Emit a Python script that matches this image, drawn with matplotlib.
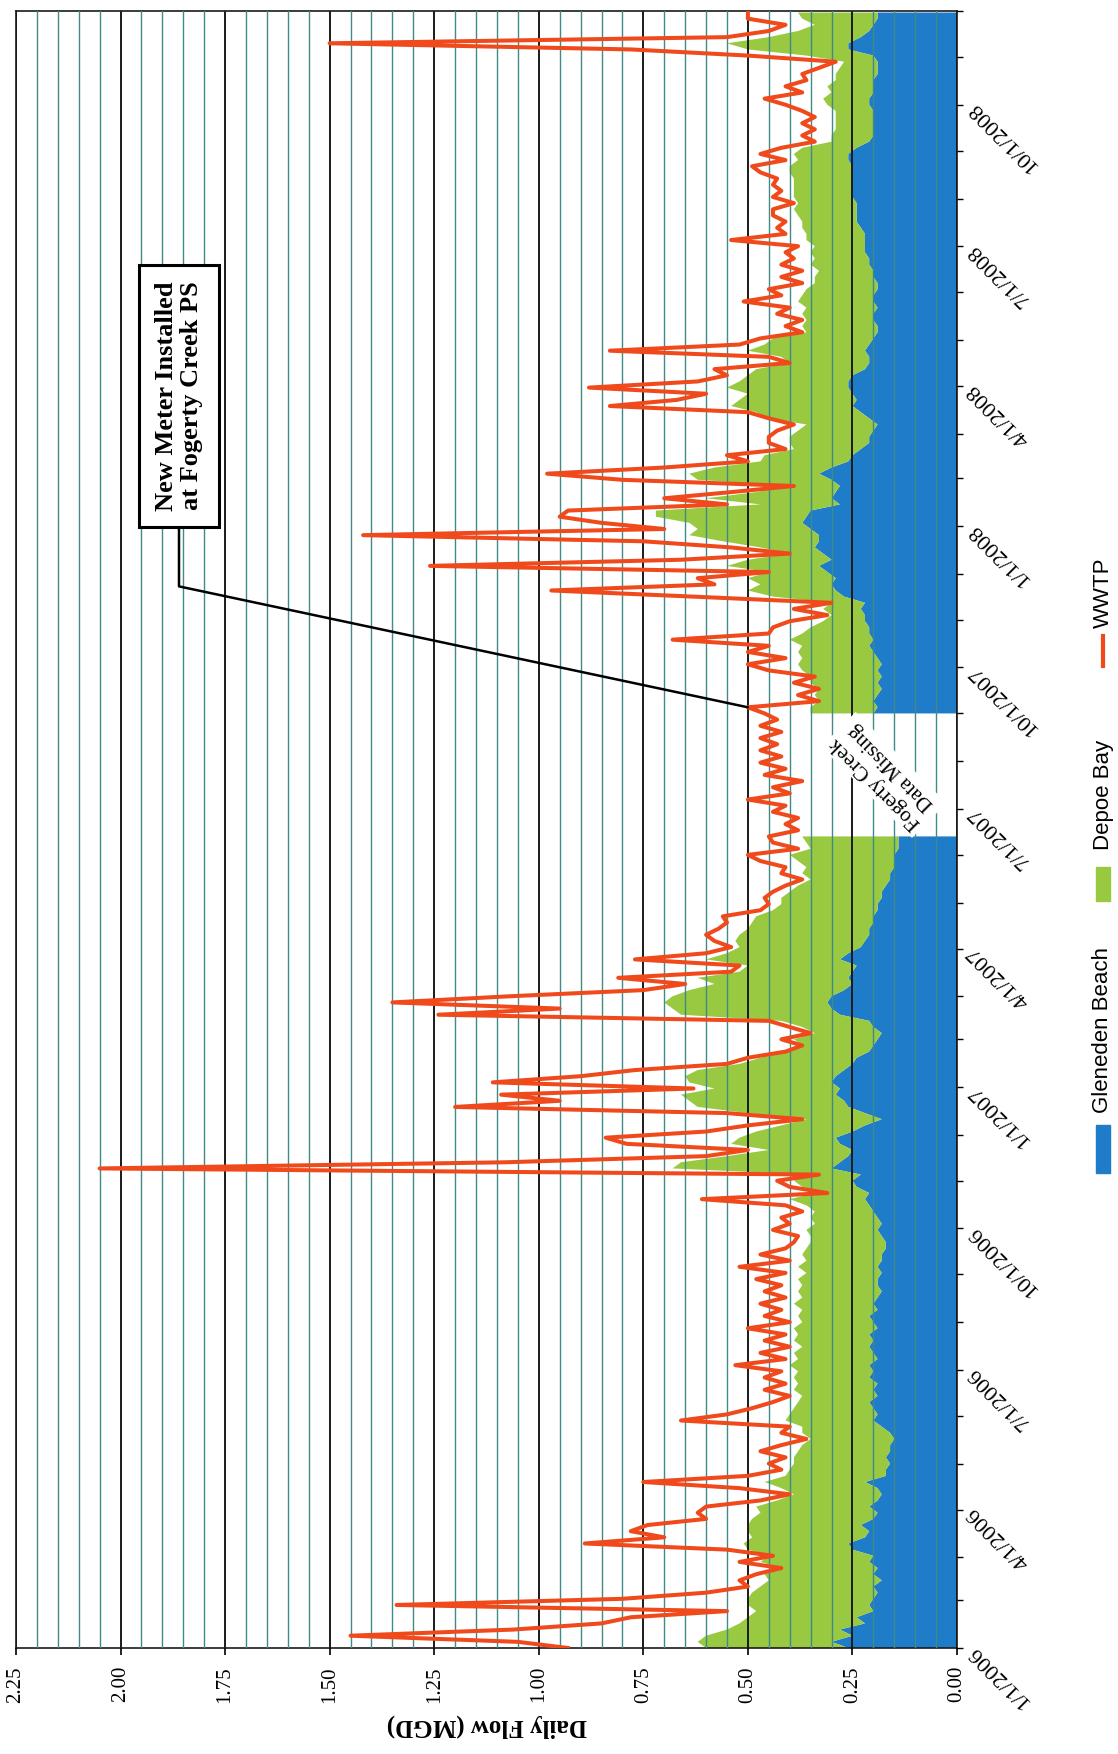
import numpy as np
import pandas as pd
import matplotlib
matplotlib.use("Agg")
import matplotlib.pyplot as plt
import matplotlib.dates as mdates
from matplotlib.patches import Rectangle
from matplotlib.lines import Line2D

nan = np.nan

# daily flow readings, one value every 4 days starting 1/1/2006
dates = pd.date_range("2006-01-01", periods=267, freq="4D")

gleneden = [
    0.26, 0.30, 0.25, 0.28, 0.22, 0.24, 0.20, 0.21, 0.20, 0.19,
    0.20, 0.18, 0.20, 0.19, 0.21, 0.20, 0.25, 0.26, 0.22, 0.21,
    0.23, 0.20, 0.19, 0.21, 0.19, 0.18, 0.19, 0.22, 0.17, 0.17,
    0.16, 0.17, 0.16, 0.16, 0.15, 0.16, 0.18, 0.20, 0.19, 0.20,
    0.21, 0.19, 0.20, 0.19, 0.21, 0.20, 0.21, 0.19, 0.20, 0.21,
    0.20, 0.21, 0.19, 0.20, 0.21, 0.19, 0.20, 0.19, 0.18, 0.19,
    0.19, 0.18, 0.19, 0.18, 0.18, 0.17, 0.17,
    0.18, 0.19, 0.18,
    0.19, 0.20, 0.21, 0.22, 0.21, 0.24, 0.25, 0.23, 0.30, 0.28,
    0.26, 0.25, 0.28, 0.29, 0.25, 0.22, 0.18, 0.22, 0.26, 0.27,
    0.29, 0.28, 0.30, 0.29, 0.27, 0.25, 0.24, 0.21, 0.20, 0.19,
    0.18, 0.20, 0.21, 0.28, 0.30, 0.31, 0.30, 0.27, 0.25, 0.26,
    0.25, 0.24, 0.28, 0.26, 0.23, 0.22, 0.21, 0.21, 0.20, 0.20,
    0.19, 0.19, 0.18, 0.18, 0.17, 0.16, 0.16, 0.15, 0.15, 0.15,
    0.14, 0.14, 0.14,
    nan, nan, nan, nan, nan, nan, nan, nan, nan, nan,
    nan, nan, nan, nan, nan, nan, nan, nan, nan,
    0.20, 0.19, 0.20, 0.19, 0.18, 0.19, 0.18, 0.19,
    0.18, 0.19, 0.20, 0.21, 0.20, 0.21, 0.21, 0.22, 0.22, 0.23,
    0.22, 0.27, 0.29, 0.30, 0.29, 0.31, 0.33, 0.30, 0.32, 0.34,
    0.33, 0.33, 0.35, 0.37, 0.36, 0.35, 0.28, 0.30, 0.29, 0.28,
    0.30, 0.33, 0.30, 0.26, 0.25, 0.23, 0.21, 0.21, 0.20, 0.19,
    0.21, 0.23, 0.25, 0.24, 0.25, 0.26, 0.26, 0.25, 0.22, 0.21,
    0.21, 0.22, 0.21, 0.20, 0.19, 0.19, 0.20, 0.20, 0.19, 0.20,
    0.20, 0.19, 0.19, 0.20, 0.20, 0.21, 0.21, 0.22, 0.22, 0.22,
    0.22, 0.23, 0.24, 0.24, 0.24, 0.24, 0.25, 0.25, 0.25, 0.25,
    0.25, 0.25, 0.26, 0.26, 0.24, 0.21, 0.20, 0.20, 0.20, 0.20,
    0.20, 0.21, 0.21, 0.20, 0.20, 0.20, 0.19, 0.19, 0.19, 0.20,
    0.26, 0.26, 0.23, 0.21, 0.20, 0.19, 0.19,
]

depoe = [
    0.34, 0.32, 0.35, 0.27, 0.30, 0.26, 0.28, 0.29, 0.30, 0.30,
    0.27, 0.27, 0.26, 0.23, 0.26, 0.25, 0.25, 0.25, 0.27, 0.29,
    0.27, 0.29, 0.28, 0.27, 0.24, 0.21, 0.23, 0.24, 0.24, 0.23,
    0.23, 0.22, 0.22, 0.21, 0.20, 0.21, 0.19, 0.21, 0.21, 0.19,
    0.17, 0.18, 0.19, 0.19, 0.18, 0.18, 0.19, 0.19, 0.19, 0.16,
    0.19, 0.17, 0.20, 0.17, 0.17, 0.18, 0.19, 0.18, 0.20, 0.18,
    0.19, 0.18, 0.19, 0.18, 0.19, 0.19, 0.18,
    0.17, 0.17, 0.16,
    0.16, 0.14, 0.15, 0.18, 0.13, 0.13, 0.14, 0.12, 0.38, 0.38,
    0.29, 0.20, 0.26, 0.23, 0.23, 0.20, 0.18, 0.28, 0.36, 0.37,
    0.37, 0.30, 0.34, 0.36, 0.35, 0.27, 0.23, 0.19, 0.17, 0.20,
    0.16, 0.17, 0.21, 0.38, 0.38, 0.39, 0.38, 0.37, 0.33, 0.36,
    0.27, 0.26, 0.32, 0.29, 0.29, 0.31, 0.31, 0.29, 0.29, 0.28,
    0.25, 0.23, 0.24, 0.22, 0.21, 0.19, 0.21, 0.21, 0.23, 0.25,
    0.21, 0.22, 0.23,
    nan, nan, nan, nan, nan, nan, nan, nan, nan, nan,
    nan, nan, nan, nan, nan, nan, nan, nan, nan,
    0.15, 0.16, 0.13, 0.15, 0.15, 0.16, 0.17, 0.18,
    0.20, 0.18, 0.18, 0.16, 0.20, 0.16, 0.14, 0.10, 0.08, 0.09,
    0.08, 0.17, 0.21, 0.17, 0.21, 0.14, 0.22, 0.20, 0.08, 0.13,
    0.23, 0.31, 0.27, 0.27, 0.36, 0.37, 0.19, 0.30, 0.19, 0.12,
    0.32, 0.31, 0.28, 0.21, 0.21, 0.16, 0.19, 0.19, 0.18, 0.17,
    0.24, 0.25, 0.29, 0.28, 0.25, 0.29, 0.26, 0.25, 0.26, 0.19,
    0.21, 0.28, 0.25, 0.24, 0.17, 0.18, 0.16, 0.17, 0.17, 0.18,
    0.17, 0.17, 0.15, 0.14, 0.13, 0.14, 0.13, 0.13, 0.12, 0.14,
    0.14, 0.14, 0.13, 0.14, 0.15, 0.14, 0.14, 0.14, 0.14, 0.14,
    0.15, 0.15, 0.12, 0.13, 0.13, 0.09, 0.10, 0.09, 0.09, 0.09,
    0.09, 0.10, 0.11, 0.10, 0.11, 0.09, 0.10, 0.09, 0.08, 0.16,
    0.24, 0.29, 0.22, 0.17, 0.14, 0.18, 0.19,
]

wwtp = [
    0.93, 1.05, 1.45, 1.06, 0.85, 0.78, 0.55, 1.34, 0.80, 0.60,
    0.50, 0.52, 0.48, 0.42, 0.52, 0.44, 0.55, 0.89, 0.70, 0.78,
    0.74, 0.60, 0.62, 0.60, 0.47, 0.40, 0.52, 0.75, 0.50, 0.42,
    0.45, 0.41, 0.47, 0.42, 0.36, 0.42, 0.40, 0.66, 0.55, 0.49,
    0.44, 0.40, 0.46, 0.41, 0.46, 0.42, 0.53, 0.41, 0.47, 0.40,
    0.46, 0.41, 0.50, 0.40, 0.46, 0.42, 0.47, 0.41, 0.46, 0.42,
    0.48, 0.41, 0.52, 0.40, 0.47, 0.41, 0.39,
    0.38, 0.44, 0.40,
    0.42, 0.37, 0.41, 0.61, 0.31, 0.40, 0.43, 0.33, 2.05, 1.08,
    0.60, 0.50, 0.79, 0.84, 0.60, 0.50, 0.37, 0.55, 1.20, 0.95,
    1.09, 0.63, 1.11, 0.90, 0.77, 0.55, 0.50, 0.41, 0.37, 0.42,
    0.35, 0.40, 0.45, 1.24, 0.95, 1.35, 1.07, 0.75, 0.65, 0.81,
    0.54, 0.52, 0.77, 0.60, 0.54, 0.58, 0.60, 0.57, 0.55, 0.56,
    0.47, 0.45, 0.46, 0.44, 0.41, 0.37, 0.42, 0.41, 0.47, 0.50,
    0.38, 0.44, 0.45,
    0.38, 0.41, 0.38, 0.44, 0.41, 0.50, 0.40,
    0.44, 0.37, 0.46, 0.41, 0.47, 0.42, 0.47, 0.43, 0.47, 0.42,
    0.47, 0.43, 0.46, 0.50, 0.33, 0.38, 0.33, 0.39, 0.34, 0.45,
    0.50, 0.41, 0.50, 0.45, 0.68, 0.45, 0.44, 0.40, 0.31, 0.39,
    0.30, 0.63, 0.97, 0.58, 0.62, 0.45, 1.26, 0.66, 0.40, 0.54,
    0.75, 1.42, 0.70, 0.85, 0.95, 0.93, 0.55, 0.70, 0.54, 0.39,
    0.80, 0.98, 0.70, 0.50, 0.55, 0.41, 0.45, 0.45, 0.43, 0.39,
    0.45, 0.50, 0.83, 0.67, 0.60, 0.88, 0.62, 0.55, 0.58, 0.40,
    0.45, 0.83, 0.52, 0.47, 0.37, 0.41, 0.37, 0.43, 0.40, 0.51,
    0.42, 0.45, 0.37, 0.42, 0.37, 0.42, 0.39, 0.41, 0.38, 0.54,
    0.41, 0.43, 0.41, 0.44, 0.44, 0.39, 0.44, 0.42, 0.44, 0.43,
    0.47, 0.49, 0.41, 0.47, 0.42, 0.34, 0.37, 0.34, 0.37, 0.34,
    0.37, 0.41, 0.46, 0.37, 0.41, 0.36, 0.37, 0.33, 0.29, 0.50,
    0.78, 1.50, 0.55, 0.45, 0.41, 0.50, 0.50,
]

date_ticks = ["1/1/2006", "4/1/2006", "7/1/2006", "10/1/2006",
              "1/1/2007", "4/1/2007", "7/1/2007", "10/1/2007",
              "1/1/2008", "4/1/2008", "7/1/2008", "10/1/2008"]
flow_ticks = ["0.00", "0.25", "0.50", "0.75", "1.00",
              "1.25", "1.50", "1.75", "2.00", "2.25"]
series_names = ["Gleneden Beach", "Depoe Bay", "WWTP"]
missing_meter = 153  # first reading after the new Fogerty Creek meter

BLUE = "#1f7cc8"
GREEN = "#98c940"
RED = "#f04a1c"
SERIF = "Liberation Serif"
SANS = "Liberation Sans"

W, H = 1118, 1754
fig = plt.figure(figsize=(W / 100, H / 100), dpi=100)
ax = fig.add_axes([16 / W, 1 - 1648 / H, (957 - 16) / W, (1648 - 11) / H])

g = np.array(gleneden)
top = g + np.array(depoe)
ax.fill_betweenx(dates, 0, g, color=BLUE, lw=0, zorder=1)
ax.fill_betweenx(dates, g, top, color=GREEN, lw=0, zorder=1)
ax.plot(wwtp, dates, color=RED, lw=2.9, zorder=3)

ax.set_xlim(2.25, 0)
ax.set_ylim(pd.Timestamp("2006-01-01"), pd.Timestamp("2008-12-01"))

# flow axis (drawn along the bottom, reversed)
ax.set_xticks([float(t) for t in flow_ticks], labels=flow_ticks,
              rotation=90, fontsize=15, family=SERIF)
ax.set_xticks(np.arange(0, 2.25, 0.05), minor=True)
ax.tick_params(axis="x", which="major", direction="out", length=5, width=1.2, pad=8)
ax.tick_params(axis="x", which="minor", length=0)
ax.grid(which="minor", axis="x", color="#3f8b88", lw=1.0)
ax.grid(which="major", axis="x", color="#1a1a1a", lw=1.4)
ax.set_axisbelow(False)
ax.set_xlabel("Daily Flow (MGD)", rotation=180, fontsize=18,
              fontweight="bold", family=SERIF, labelpad=8)

# date axis (drawn on the right)
ax.yaxis.tick_right()
ax.set_yticks(mdates.date2num(pd.to_datetime(date_ticks)), labels=date_ticks,
              rotation=135, rotation_mode="anchor", ha="right", va="center",
              fontsize=16, family=SERIF)
ax.yaxis.set_minor_locator(mdates.MonthLocator())
ax.tick_params(axis="y", which="both", direction="out", length=4, width=1.0, pad=6)

for s in ax.spines.values():
    s.set_color("#1a1a1a")
    s.set_linewidth(1.2)

# callout for the new meter
ax.annotate("New Meter Installed\nat Fogerty Creek PS",
            xy=(wwtp[missing_meter], mdates.date2num(dates[missing_meter])),
            xytext=(179, H - 396), textcoords="figure pixels",
            rotation=90, ha="center", va="center", multialignment="center",
            fontsize=19, fontweight="bold", family=SERIF, linespacing=1.15,
            bbox=dict(boxstyle="square,pad=0.6", fc="white", ec="black", lw=2.2),
            arrowprops=dict(arrowstyle="-", color="black", lw=1.8, shrinkA=0, shrinkB=0,
                            connectionstyle="angle,angleA=-90,angleB=168,rad=0"),
            zorder=5)

ax.text(0.175, mdates.date2num(pd.Timestamp("2007-07-23")), "Fogerty Creek\nData Missing",
        rotation=135, rotation_mode="anchor", ha="center", va="center",
        multialignment="center", fontsize=15, family=SERIF, zorder=4,
        bbox=dict(boxstyle="square,pad=0.2", fc="white", ec="none"))

# legend, stacked vertically on the right
def fx(x):
    return x / W

def fy(y):
    return 1 - y / H

fig.patches.append(Rectangle((fx(1096), fy(1173)), 14 / W, 48 / H, color=BLUE,
                             transform=fig.transFigure))
fig.text(fx(1103), fy(1113), series_names[0], rotation=90, ha="center", va="bottom",
         fontsize=16, family=SANS)
fig.patches.append(Rectangle((fx(1096), fy(901)), 14 / W, 34 / H, color=GREEN,
                             transform=fig.transFigure))
fig.text(fx(1103), fy(850), series_names[1], rotation=90, ha="center", va="bottom",
         fontsize=16, family=SANS)
fig.lines.append(Line2D([fx(1103), fx(1103)], [fy(666), fy(636)], color=RED, lw=3,
                        transform=fig.transFigure))
fig.text(fx(1103), fy(628), series_names[2], rotation=90, ha="center", va="bottom",
         fontsize=16, family=SANS)

fig.savefig("out.png", dpi=100)
